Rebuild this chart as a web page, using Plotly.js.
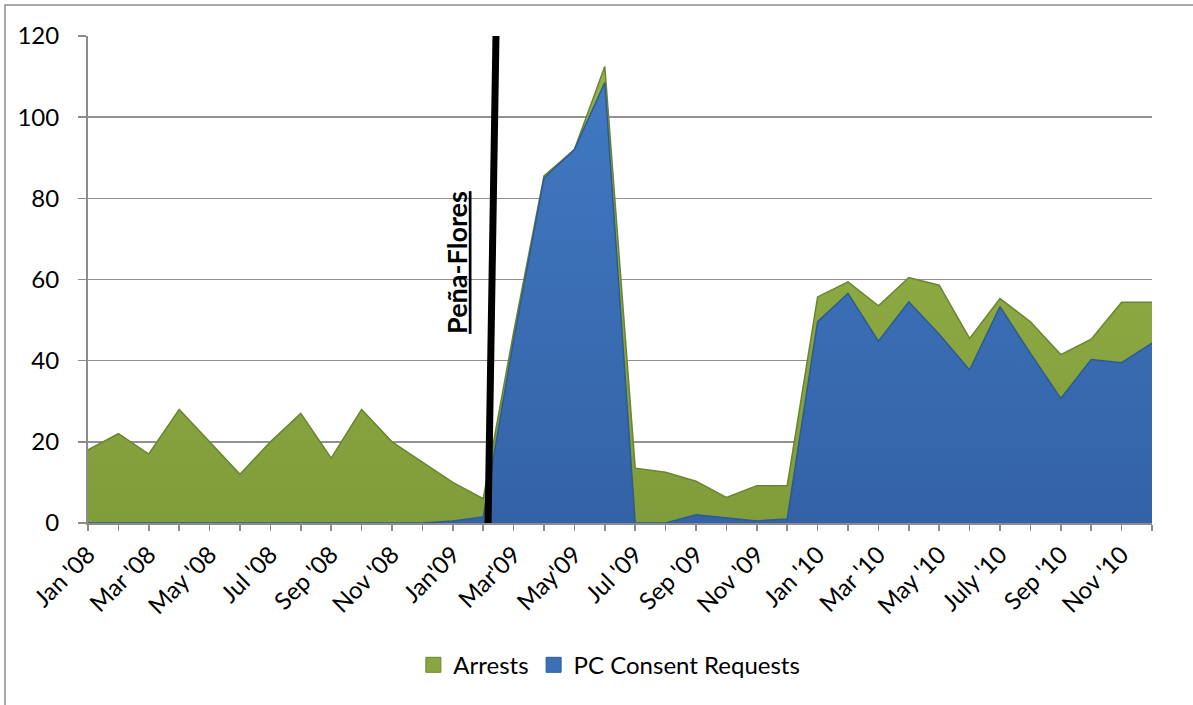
<!DOCTYPE html>
<html>
<head>
<meta charset="utf-8">
<script src="https://cdn.plot.ly/plotly-3.0.1.min.js"></script>
<style>
  html, body { margin: 0; padding: 0; background: #ffffff; }
  #chart { width: 1193px; height: 705px; }
</style>
</head>
<body>
<div id="chart"></div>
<script>
// Monthly counts, Jan 2008 – Dec 2010 (36 months)
const arrests = [
  18, 22, 17, 28, 20, 12, 20, 27, 16, 28, 20, 15,
  10, 6, 47, 85.5, 92, 112.5, 13.5, 12.5, 10.3, 6.3, 9.2, 9.2,
  55.7, 59.4, 53.5, 60.5, 58.6, 45.5, 55.3, 49.6, 41.5, 45.3, 54.4, 54.4
];
const consentRequests = [
  0, 0, 0, 0, 0, 0, 0, 0, 0, 0, 0, 0,
  0.5, 1.5, 45, 85, 92, 108.5, 0, 0, 2, 1.3, 0.5, 1,
  49.6, 56.6, 44.8, 54.5, 46.5, 37.7, 53.3, 41.8, 30.7, 40.3, 39.5, 44.3
];
// Axis labels, one every second month
const tickLabels = [
  "Jan '08", "Mar '08", "May '08", "Jul '08", "Sep '08", "Nov '08",
  "Jan'09", "Mar'09", "May'09", "Jul '09", "Sep '09", "Nov '09",
  "Jan '10", "Mar '10", "May '10", "July '10", "Sep '10", "Nov '10"
];
const seriesNames = ["Arrests", "PC Consent Requests"];
const eventLabel = "Peña-Flores";
// Month position of the event marker line (bottom, top)
const eventX = [13.16, 13.42];

const monthIdx = arrests.map((_, i) => i);
const tickText = monthIdx.map(i => (i % 2 === 0 ? tickLabels[i / 2] : ""));

const FONT = "Lato, 'Open Sans', sans-serif";
const GREEN = "#89a740", GREEN_LINE = "#6a8530";
const BLUE = "#3b70b7", BLUE_LINE = "#2d5a93";

const traces = [
  {
    x: monthIdx, y: arrests, type: "scatter", mode: "lines",
    fill: "tozeroy", name: seriesNames[0], showlegend: false,
    line: { color: GREEN_LINE, width: 1.5 },
    fillcolor: GREEN,
    fillgradient: { type: "vertical", colorscale: [[0, "#809d3b"], [1, "#95b249"]] }
  },
  {
    x: monthIdx, y: consentRequests, type: "scatter", mode: "lines",
    fill: "tozeroy", name: seriesNames[1], showlegend: false,
    line: { color: BLUE_LINE, width: 1.5 },
    fillcolor: BLUE,
    fillgradient: { type: "vertical", colorscale: [[0, "#3462a6"], [1, "#4079c2"]] }
  },
  // legend swatches
  {
    x: [null], y: [null], type: "scatter", mode: "markers", name: seriesNames[0],
    marker: { symbol: "square", size: 15, color: GREEN, line: { color: GREEN_LINE, width: 1 } }
  },
  {
    x: [null], y: [null], type: "scatter", mode: "markers", name: seriesNames[1],
    marker: { symbol: "square", size: 15, color: BLUE, line: { color: BLUE_LINE, width: 1 } }
  }
];

const layout = {
  width: 1193, height: 705, autosize: false,
  margin: { l: 88, r: 41, t: 36, b: 182 },
  paper_bgcolor: "#ffffff", plot_bgcolor: "#ffffff",
  font: { family: FONT, size: 24, color: "#000000" },
  showlegend: true,
  legend: {
    orientation: "h", x: 0.49, xanchor: "center", y: -0.292, yanchor: "middle",
    font: { family: FONT, size: 24, color: "#000000" },
    itemwidth: 30, traceorder: "normal"
  },
  xaxis: {
    range: [0, 35], tickmode: "array", tickvals: monthIdx, ticktext: tickText,
    tickangle: -45, ticks: "outside", ticklen: 6, tickwidth: 1.5, tickcolor: "#8c8c8c",
    showline: true, linecolor: "#8c8c8c", linewidth: 2,
    showgrid: false, zeroline: false,
    tickfont: { family: FONT, size: 24, color: "#000000" }
  },
  yaxis: {
    range: [0, 120], tickmode: "linear", tick0: 0, dtick: 20,
    ticks: "outside", ticklen: 8, tickwidth: 1.5, tickcolor: "#8c8c8c",
    showline: true, linecolor: "#8c8c8c", linewidth: 2,
    showgrid: true, gridcolor: "#929292", gridwidth: 1.6, zeroline: false,
    ticklabelstandoff: 14,
    tickfont: { family: FONT, size: 24, color: "#000000" }
  },
  shapes: [
    {
      type: "line", xref: "x", yref: "y", layer: "above",
      x0: eventX[0], y0: 0, x1: eventX[1], y1: 120,
      line: { color: "#000000", width: 7 }
    },
    {
      type: "rect", xref: "paper", yref: "paper", layer: "below",
      x0: -0.078, x1: 1.1, y0: -0.5, y1: 1.0637,
      line: { color: "#8c8c8c", width: 1.5 }, fillcolor: "rgba(0,0,0,0)"
    }
  ],
  annotations: [
    {
      xref: "x", yref: "y", x: 12.1, y: 64.3, showarrow: false,
      textangle: -90,
      text: "<b><span style=\"text-decoration:underline\">" + eventLabel + "</span></b>",
      font: { family: FONT, size: 27, color: "#000000" }
    }
  ]
};

Plotly.newPlot("chart", traces, layout, { displayModeBar: false, staticPlot: true });
</script>
</body>
</html>
